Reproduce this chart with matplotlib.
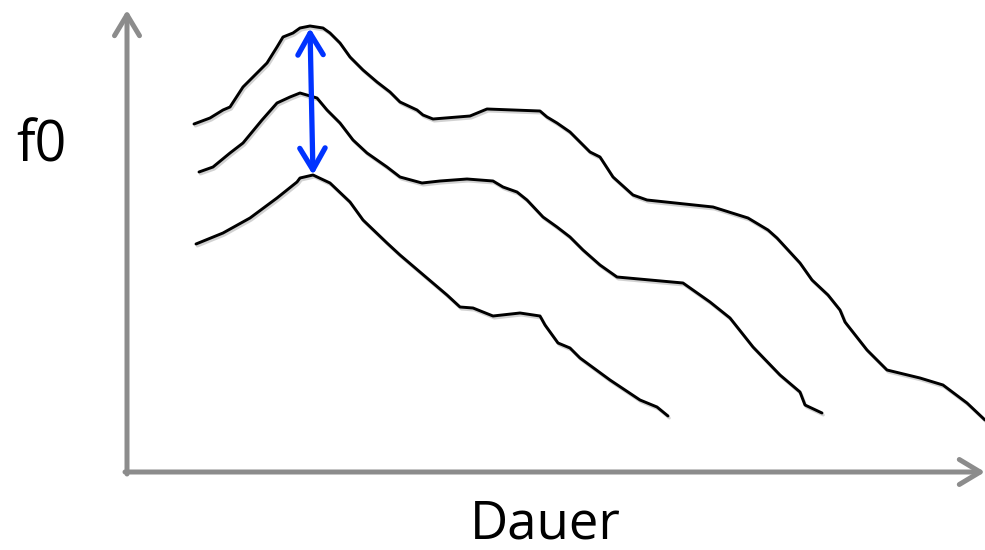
import numpy as np
import matplotlib.pyplot as plt
import matplotlib.patheffects as pe

# Konturen (x = Dauer, y = f0), in Bildpunkten relativ zum Ursprung
kontur_hoch_x = [67, 83, 96, 103, 116, 126, 140, 150, 156, 166, 173, 183, 196, 203,
                 213, 223, 236, 250, 263, 273, 290, 296, 306, 343, 360, 413, 420,
                 430, 443, 463, 473, 486, 506, 520, 586, 621, 641, 650, 673, 685,
                 701, 713, 718, 740, 760, 793, 816, 840, 858]
kontur_hoch_y = [348, 354, 362, 365, 385, 395, 409, 425, 435, 439, 444, 446, 444, 439,
                 429, 415, 402, 390, 380, 370, 362, 357, 353, 356, 363, 361, 355,
                 349, 340, 320, 315, 295, 277, 272, 265, 254, 242, 234, 209, 192,
                 177, 162, 150, 122, 102, 94, 87, 69, 52]

kontur_mitte_x = [72, 86, 103, 116, 135, 150, 163, 173, 190, 200, 213, 226, 240, 260,
                  273, 295, 313, 340, 366, 376, 390, 400, 416, 430, 443, 456, 473,
                  490, 556, 583, 603, 626, 653, 673, 678, 695]
kontur_mitte_y = [300, 305, 319, 329, 352, 369, 375, 379, 374, 362, 349, 332, 319, 305,
                  295, 289, 291, 293, 291, 285, 280, 272, 255, 245, 235, 222, 207,
                  195, 189, 170, 154, 125, 97, 80, 67, 59]

kontur_tief_x = [69, 96, 123, 150, 170, 173, 186, 203, 223, 236, 260, 273, 300, 320,
                 333, 346, 366, 393, 413, 418, 431, 443, 453, 483, 513, 530, 541]
kontur_tief_y = [228, 239, 254, 274, 290, 294, 297, 289, 270, 252, 229, 217, 194, 177,
                 165, 164, 156, 159, 156, 147, 129, 124, 114, 92, 72, 65, 56]

# Spanne zwischen den Gipfeln
spanne_x = [183, 186]
spanne_y = [444, 297]

achse_x_ende = 858
achse_y_ende = 462

fig = plt.figure(figsize=(9.85, 5.5), dpi=100)
ax = fig.add_axes([0, 0, 1, 1])
ax.set_xlim(-127, 858)
ax.set_ylim(-78, 472)
ax.axis("off")

grau = "#8c8c8c"
pfeil_grau = dict(arrowstyle="->,head_length=0.75,head_width=0.45", color=grau,
                  lw=3.6, mutation_scale=20, shrinkA=0, shrinkB=0,
                  capstyle="round", joinstyle="round")
ax.annotate("", xy=(achse_x_ende, 0), xytext=(-2, 0), arrowprops=pfeil_grau)
ax.annotate("", xy=(0, achse_y_ende), xytext=(0, -2), arrowprops=pfeil_grau)

schatten = [pe.SimpleLineShadow(offset=(1, -1.5), shadow_color="grey", alpha=0.35),
            pe.Normal()]
for kx, ky in [(kontur_hoch_x, kontur_hoch_y),
               (kontur_mitte_x, kontur_mitte_y),
               (kontur_tief_x, kontur_tief_y)]:
    ax.plot(kx, ky, color="black", lw=2.1, solid_capstyle="round",
            solid_joinstyle="round", path_effects=schatten)

ax.annotate("", xy=(spanne_x[0], spanne_y[0]), xytext=(spanne_x[1], spanne_y[1]),
            arrowprops=dict(arrowstyle="<->,head_length=0.65,head_width=0.38",
                            color="#0033ff", lw=3.8, mutation_scale=24,
                            shrinkA=0, shrinkB=0, capstyle="round",
                            joinstyle="round"))

ax.text(-86, 325, "f0", fontsize=40, family="Open Sans", ha="center", va="center")
ax.text(418, -53, "Dauer", fontsize=38, family="Open Sans", ha="center", va="center")

fig.savefig("out.png", dpi=100)
